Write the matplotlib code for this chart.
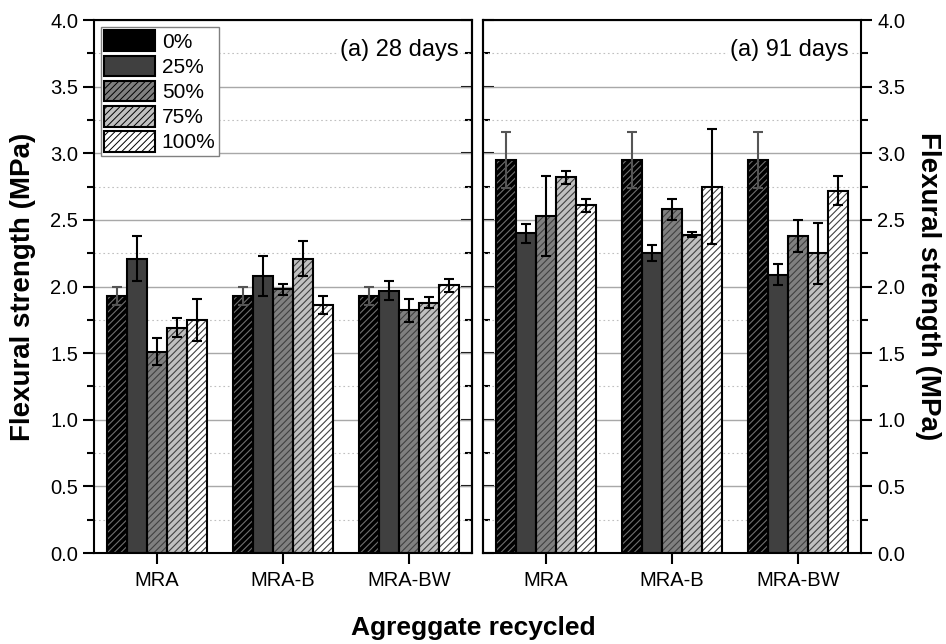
import numpy as np
import matplotlib
matplotlib.use("Agg")
import matplotlib.pyplot as plt
from matplotlib.ticker import MultipleLocator
from matplotlib.patches import Patch

plt.rcParams['font.family'] = ['Liberation Sans', 'DejaVu Sans']

groups = ['MRA', 'MRA-B', 'MRA-BW']
levels = ['0%', '25%', '50%', '75%', '100%']

# flexural strength (MPa), rows = replacement level, cols = group
mean_28 = [[1.93, 1.93, 1.93],
           [2.21, 2.08, 1.97],
           [1.51, 1.98, 1.82],
           [1.69, 2.21, 1.88],
           [1.75, 1.86, 2.01]]
err_28 = [[0.07, 0.07, 0.07],
          [0.17, 0.15, 0.07],
          [0.10, 0.04, 0.09],
          [0.07, 0.13, 0.04],
          [0.16, 0.07, 0.05]]

mean_91 = [[2.95, 2.95, 2.95],
           [2.40, 2.25, 2.09],
           [2.53, 2.58, 2.38],
           [2.82, 2.39, 2.25],
           [2.61, 2.75, 2.72]]
err_91 = [[0.21, 0.21, 0.21],
          [0.07, 0.06, 0.08],
          [0.30, 0.08, 0.12],
          [0.05, 0.02, 0.23],
          [0.05, 0.43, 0.11]]

fills = ['#000000', '#404040', '#808080', '#c0c0c0', '#ffffff']
hatches = ['/////', '', '/////', '/////', '/////']
hatch_cols = ['#707070', '#404040', '#404040', '#404040', '#404040']
err_cols = ['#555555', 'black', 'black', 'black', 'black']
width = 0.16

fig = plt.figure(figsize=(9.46, 6.44), dpi=100)
ax1 = fig.add_axes([0.0994, 0.1413, 0.3996, 0.8276])
ax2 = fig.add_axes([0.5106, 0.1413, 0.3996, 0.8276])


def draw_panel(ax, means, errs):
    x = np.arange(1, len(groups) + 1)
    for i in range(len(levels)):
        xs = x + (i - 2) * width
        ax.bar(xs, means[i], width, color=fills[i], edgecolor='none', zorder=2)
        if hatches[i]:
            with plt.rc_context({'hatch.linewidth': 0.8}):
                ax.bar(xs, means[i], width, color='none', edgecolor=hatch_cols[i],
                       hatch=hatches[i], linewidth=0, zorder=3)
        ax.bar(xs, means[i], width, color='none', edgecolor='black', linewidth=1.5, zorder=4)
        ax.errorbar(xs, means[i], yerr=errs[i], fmt='none', ecolor=err_cols[i],
                    elinewidth=1.5, capsize=3.6, capthick=1.5, zorder=5)
    ax.set_xlim(0.5, 3.5)
    ax.set_ylim(0, 4.0)
    ax.set_xticks(x)
    ax.set_xticklabels(groups)
    ax.yaxis.set_major_locator(MultipleLocator(0.5))
    ax.yaxis.set_minor_locator(MultipleLocator(0.25))
    ax.grid(axis='y', which='major', color='#a8a8a8', linewidth=1.0, zorder=0)
    ax.grid(axis='y', which='minor', color='#c0c0c0', linewidth=0.8, linestyle=(0, (1.5, 2.5)), zorder=0)
    ax.set_axisbelow(True)
    for s in ax.spines.values():
        s.set_linewidth(1.5)
    ax.tick_params(axis='x', which='major', direction='out', length=8, width=1.5, labelsize=14.5,
                   top=False, pad=5)
    ax.tick_params(axis='x', which='minor', bottom=False, top=False)


draw_panel(ax1, mean_28, err_28)
draw_panel(ax2, mean_91, err_91)

ax1.tick_params(axis='y', which='both', left=True, right=False, labelleft=True, direction='out',
                width=1.5, labelsize=14.5)
ax1.tick_params(axis='y', which='major', length=8)
ax1.tick_params(axis='y', which='minor', length=5)
ax1r = ax1.secondary_yaxis('right')
ax1r.yaxis.set_major_locator(MultipleLocator(0.5))
ax1r.yaxis.set_minor_locator(MultipleLocator(0.25))
ax1r.tick_params(which='both', direction='in', width=1.5, labelright=False)
ax1r.tick_params(which='major', length=8)
ax1r.tick_params(which='minor', length=5)
ax1r.spines['right'].set_linewidth(1.5)

ax2.yaxis.tick_right()
ax2.tick_params(axis='y', which='both', direction='out', width=1.5, labelsize=14.5)
ax2.tick_params(axis='y', which='major', length=8)
ax2.tick_params(axis='y', which='minor', length=5)
ax2l = ax2.secondary_yaxis('left')
ax2l.yaxis.set_major_locator(MultipleLocator(0.5))
ax2l.yaxis.set_minor_locator(MultipleLocator(0.25))
ax2l.tick_params(which='both', direction='in', width=1.5, labelleft=False)
ax2l.tick_params(which='major', length=8)
ax2l.tick_params(which='minor', length=5)
ax2l.spines['left'].set_linewidth(1.5)

ax1.set_ylabel('Flexural strength (MPa)', fontsize=20, fontweight='bold', labelpad=10)
ax2.yaxis.set_label_position('right')
ax2.set_ylabel('Flexural strength (MPa)', fontsize=20, fontweight='bold', rotation=270, labelpad=26)

ax1.text(0.965, 0.944, '(a) 28 days', transform=ax1.transAxes, ha='right', va='center', fontsize=17,
         bbox=dict(facecolor='white', edgecolor='none', pad=1))
ax2.text(0.966, 0.944, '(a) 91 days', transform=ax2.transAxes, ha='right', va='center', fontsize=17,
         bbox=dict(facecolor='white', edgecolor='none', pad=1))

handles = [Patch(facecolor=fills[i], edgecolor='black', hatch=hatches[i], linewidth=1.5) for i in range(len(levels))]
with plt.rc_context({'hatch.linewidth': 0.7, 'hatch.color': '#404040'}):
    leg = ax1.legend(handles, levels, loc='upper left', fontsize=15, handlelength=2.45, handleheight=1.15,
                     labelspacing=0.18, handletextpad=0.3, borderpad=0.15, borderaxespad=0.35,
                     fancybox=False, framealpha=1, edgecolor='#808080')
leg.get_frame().set_linewidth(1.0)
leg.set_zorder(10)

fig.text(0.5, 0.014, 'Agreggate recycled', ha='center', va='baseline', fontsize=19, fontweight='bold')

fig.savefig('out.png', dpi=100)
